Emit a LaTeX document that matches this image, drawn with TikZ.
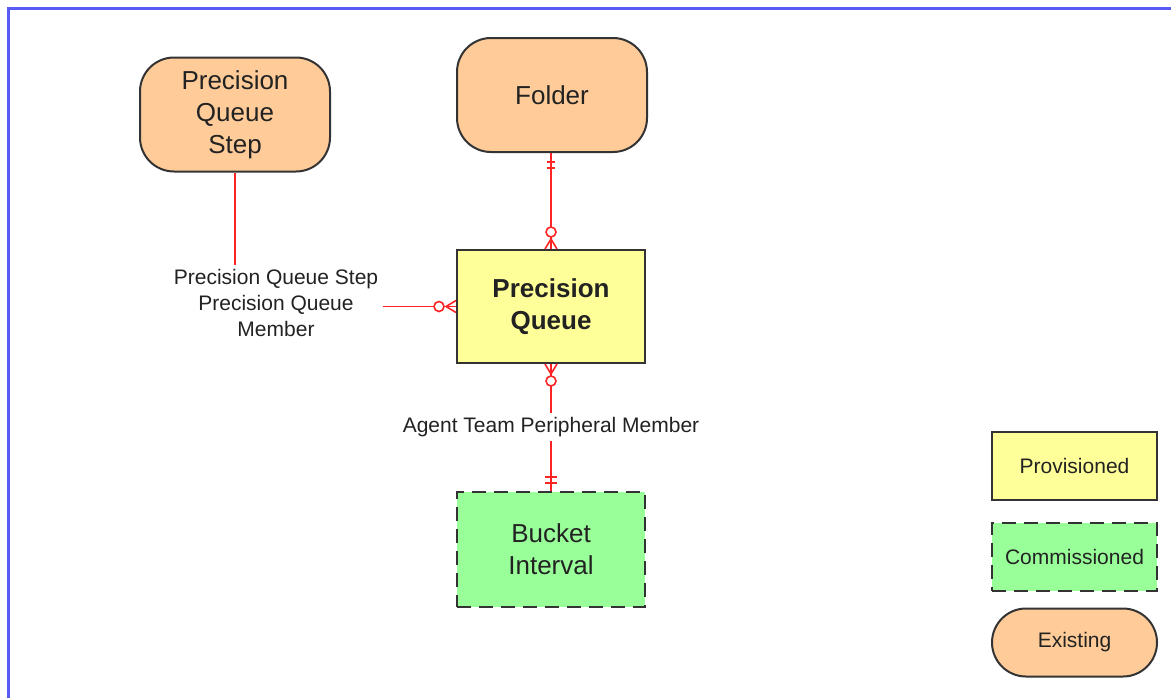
\documentclass[tikz,border=0pt]{standalone}
\usepackage{fontspec}
\setmainfont{Liberation Sans}
\usetikzlibrary{calc}
\definecolor{peach}{HTML}{FFCC99}
\definecolor{lemon}{HTML}{FFFF99}
\definecolor{mint}{HTML}{99FF99}
\definecolor{edgegray}{HTML}{333333}
\definecolor{relred}{HTML}{FF2424}
\definecolor{frameblue}{HTML}{5A5AF5}
\definecolor{textgray}{HTML}{222222}
\tikzset{
  existing/.style={draw=edgegray, line width=1pt, fill=peach, rounded corners=17pt, text=textgray,
    minimum width=95pt, minimum height=57pt, align=center, font=\fontsize{13}{16}\selectfont},
  provisioned/.style={draw=edgegray, line width=1pt, fill=lemon, text=textgray,
    minimum width=94pt, minimum height=56.5pt, align=center, font=\fontsize{13}{16}\selectfont\bfseries},
  commissioned/.style={draw=edgegray, line width=1.3pt, fill=mint, dash pattern=on 7pt off 4pt, text=textgray,
    minimum width=94pt, minimum height=57.5pt, align=center, font=\fontsize{13}{16}\selectfont},
  legendbox/.style={minimum width=82.5pt, minimum height=34pt, font=\fontsize{10.5}{13}\selectfont},
  rel/.style={draw=relred, line width=0.8pt},
  rellabel/.style={inner sep=2pt, align=center, text=textgray, font=\fontsize{10.5}{13}\selectfont}
}
\begin{document}
\begin{tikzpicture}[x=0.5pt,y=-0.5pt]
  \useasboundingbox (0,0) rectangle (1171,697);
  \draw[frameblue, line width=1.5pt] (8,720) -- (8,8) -- (1190,8); % marco
  % entidades
  \node[existing] (pqs) at (235,114.5) {Precision\\Queue\\Step};
  \node[existing] (folder) at (552,95) {Folder};
  \node[provisioned] (pq) at (551,306.5) {Precision\\Queue};
  \node[commissioned] (bucket) at (551,549.5) {Bucket\\Interval};
  % leyenda
  \node[provisioned, legendbox, font=\fontsize{10.5}{13}\selectfont] (lprov) at (1074.5,465.5) {Provisioned};
  \node[commissioned, legendbox] (lcomm) at (1074.5,557) {Commissioned};
  \node[existing, legendbox] (lexist) at (1074.5,642.5) {Existing};
  % etiquetas de relaciones
  \node[rellabel] (pqsm) at (276,303) {Precision Queue Step\\Precision Queue\\Member};
  \node[rellabel] (atpm) at (551,427) {Agent Team Peripheral Member};
  % Folder -- Precision Queue
  \draw[rel] (folder.south -| pq.north) -- (pq.north);
  \draw[rel, line width=1.2pt] ($(folder.south -| pq.north)+(-4,9)$) -- ++(8,0) ($(folder.south -| pq.north)+(-4,15)$) -- ++(8,0);
  \draw[rel] ($(pq.north)+(0,-10)$) -- ($(pq.north)+(-6,0)$) ($(pq.north)+(0,-10)$) -- ($(pq.north)+(6,0)$);
  \draw[rel, fill=white] ($(pq.north)+(0,-17)$) circle (2.5pt);
  % Precision Queue Step -- Precision Queue
  \draw[rel] (pqs.south) -- (pqs.south |- pqsm.north);
  \draw[rel] (pqsm.east |- pq.west) -- (pq.west);
  \draw[rel] ($(pq.west)+(-10,0)$) -- ($(pq.west)+(0,-6)$) ($(pq.west)+(-10,0)$) -- ($(pq.west)+(0,6)$);
  \draw[rel, fill=white] ($(pq.west)+(-17,0)$) circle (2.5pt);
  % Precision Queue -- Bucket Interval
  \draw[rel] (pq.south) -- (atpm.north);
  \draw[rel] (atpm.south) -- (bucket.north);
  \draw[rel] ($(pq.south)+(0,10)$) -- ($(pq.south)+(-6,0)$) ($(pq.south)+(0,10)$) -- ($(pq.south)+(6,0)$);
  \draw[rel, fill=white] ($(pq.south)+(0,17)$) circle (2.5pt);
  \draw[rel] ($(bucket.north)+(-6,-14)$) -- ++(12,0) ($(bucket.north)+(-6,-8)$) -- ++(12,0);
\end{tikzpicture}
\end{document}
